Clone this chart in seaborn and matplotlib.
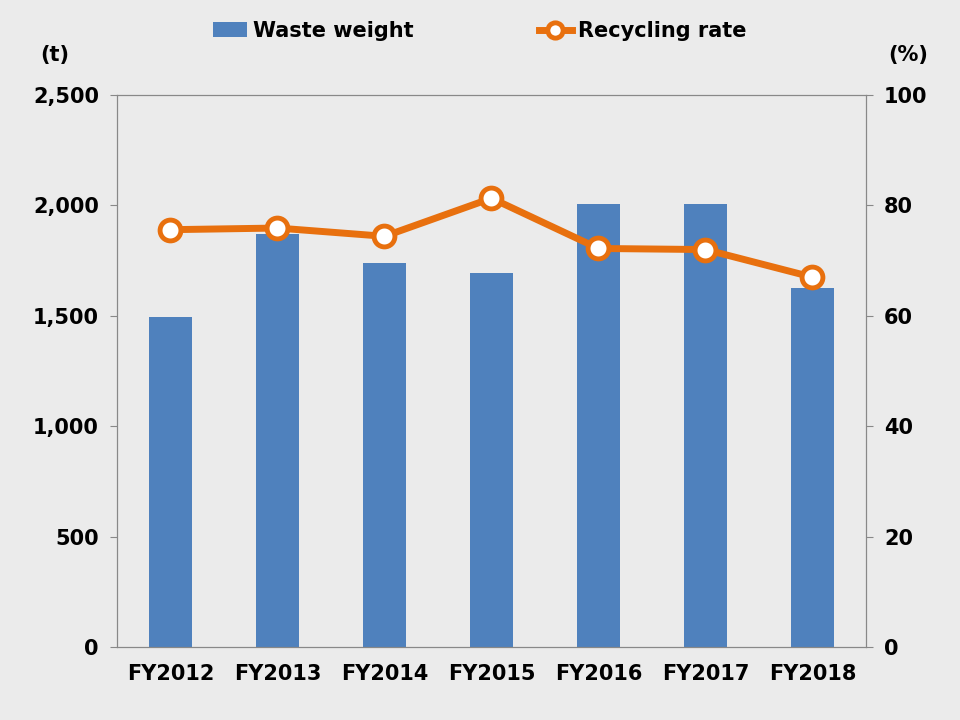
import matplotlib
matplotlib.use("Agg")
import matplotlib.pyplot as plt
import seaborn as sns
import pandas as pd

years = ["FY2012","FY2013","FY2014","FY2015","FY2016","FY2017","FY2018"]
waste = [1495, 1870, 1740, 1695, 2006, 2006, 1626]
rate = [75.6, 75.9, 74.4, 81.3, 72.2, 72.0, 67.0]

df = pd.DataFrame({"year": years, "waste": waste, "rate": rate})
plt.rcParams["font.family"] = "DejaVu Sans"
plt.rcParams["font.weight"] = "bold"
bg = "#EBEBEB"
fig = plt.figure(figsize=(9.6, 7.2), dpi=100, facecolor=bg)
ax = fig.add_axes([117/960, 1-647/720, (866-117)/960, (647-95)/720], facecolor=bg)
sns.barplot(data=df, x="year", y="waste", color="#4F81BD", width=0.4, ax=ax, saturation=1, label="Waste weight")
if ax.get_legend():
    ax.get_legend().remove()
ax.set_ylim(0, 2500)
ax.set_yticks(range(0, 2501, 500))
ax.set_yticklabels([f"{v:,}" for v in range(0, 2501, 500)])
ax2 = ax.twinx()
ax2.plot(range(len(years)), rate, color="#E8700E", lw=5, marker="o", ms=15,
         mfc="white", mec="#E8700E", mew=3.5, label="Recycling rate", zorder=5)
ax2.set_ylim(0, 100)
ax2.set_yticks(range(0, 101, 20))
ax.set_xlim(-0.5, 6.5)
for a in (ax, ax2):
    for s in a.spines.values():
        s.set_color("#888888")
    a.tick_params(labelsize=15, colors="black", length=0, pad=8)
    for lab in a.get_xticklabels() + a.get_yticklabels():
        lab.set_fontweight("bold")
ax.set_xlabel(""); ax.set_ylabel("")
ax.tick_params(axis="y", length=5, color="#888888", direction="out")
ax2.tick_params(axis="y", length=5, color="#888888", direction="out")
ax.tick_params(axis="x", pad=12)
fig.text(55/960, 1-55/720, "(t)", fontsize=15, fontweight="bold", ha="center", va="center")
fig.text(908/960, 1-55/720, "(%)", fontsize=15, fontweight="bold", ha="center", va="center")
h1, l1 = ax.get_legend_handles_labels()
h2, l2 = ax2.get_legend_handles_labels()
leg = fig.legend(h1 + h2, l1 + l2, loc="center", bbox_to_anchor=(0.5, 1-31/720), ncol=2,
           frameon=False, handlelength=1.6, handletextpad=0.3, columnspacing=6,
           prop={"weight": "bold", "size": 15})
leg.legend_handles[1].set_markersize(11)
fig.savefig("out.png", dpi=100, facecolor=bg)
